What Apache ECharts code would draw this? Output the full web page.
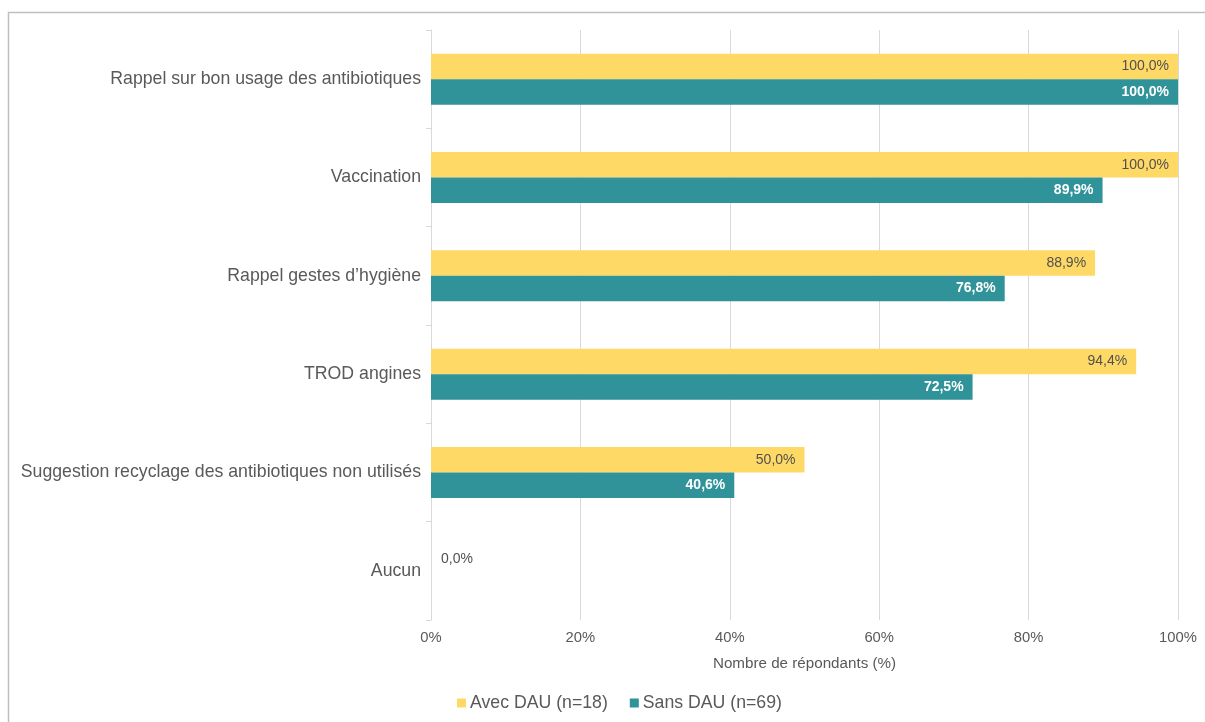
<!DOCTYPE html>
<html>
<head>
<meta charset="utf-8">
<script src="https://cdn.jsdelivr.net/npm/echarts@6/dist/echarts.min.js"></script>
<style>
html,body{margin:0;padding:0;background:#fff;}
#chart{width:1205px;height:722px;}
</style>
</head>
<body>
<div id="chart"></div>
<script>
const categories = [
  "Rappel sur bon usage des antibiotiques",
  "Vaccination",
  "Rappel gestes d\u2019hygiène",
  "TROD angines",
  "Suggestion recyclage des antibiotiques non utilisés",
  "Aucun"
];
const avecDAU = [100.0, 100.0, 88.9, 94.4, 50.0, 0.0];
const sansDAU = [100.0, 89.9, 76.8, 72.5, 40.6, null];
const xTicks = [0, 20, 40, 60, 80, 100];
const seriesNames = ["Avec DAU (n=18)", "Sans DAU (n=69)"];

const fmt = v => v.toFixed(1).replace('.', ',') + '%';

const chart = echarts.init(document.getElementById('chart'), null, {renderer: 'canvas'});
const font = "Arial, 'Liberation Sans', sans-serif";

chart.setOption({
  animation: false,
  textStyle: {fontFamily: font},
  graphic: [{
    type: 'rect',
    shape: {x: 8.5, y: 12.5, width: 1400, height: 900},
    style: {fill: 'none', stroke: '#bfbfbf', lineWidth: 1.5},
    silent: true, z: -10
  }],
  grid: {left: 431, right: 27, top: 30, bottom: 102, containLabel: false},
  legend: {
    data: seriesNames,
    top: 689,
    left: 452,
    itemWidth: 9, itemHeight: 9, itemGap: 22,
    icon: 'rect',
    textStyle: {color: '#595959', fontSize: 17.7, fontFamily: font, padding: [0, 0, 0, -1]}
  },
  xAxis: {
    type: 'value',
    min: 0, max: 100, interval: 20,
    name: 'Nombre de répondants (%)',
    nameLocation: 'middle',
    nameGap: 36,
    nameTextStyle: {color: '#595959', fontSize: 15.2, fontFamily: font},
    axisLabel: {color: '#595959', fontSize: 14.8, margin: 10, formatter: v => v + '%'},
    axisLine: {show: false},
    axisTick: {show: false},
    splitLine: {lineStyle: {color: '#d9d9d9', width: 1}}
  },
  yAxis: {
    type: 'category',
    data: categories,
    inverse: true,
    axisLine: {lineStyle: {color: '#d9d9d9', width: 1}},
    axisTick: {show: true, length: 5, lineStyle: {color: '#d9d9d9'}},
    axisLabel: {color: '#595959', fontSize: 17.7, margin: 10, fontFamily: font}
  },
  series: [
    {
      name: seriesNames[0],
      type: 'bar',
      data: avecDAU.map(v => v === 0 ? {value: v, label: {position: 'right', offset: [1, 1]}} : v),
      itemStyle: {color: '#FFD966'},
      barWidth: 25.5,
      barGap: '0%',
      label: {
        show: true, position: 'insideRight', distance: 9,
        color: '#505050', fontSize: 14, fontFamily: font,
        formatter: p => fmt(p.value)
      }
    },
    {
      name: seriesNames[1],
      type: 'bar',
      data: sansDAU,
      itemStyle: {color: '#2F9399'},
      barWidth: 25.5,
      barGap: '0%',
      label: {
        show: true, position: 'insideRight', distance: 9,
        color: '#ffffff', fontSize: 14, fontWeight: 'bold', fontFamily: font,
        formatter: p => fmt(p.value)
      }
    }
  ]
});
</script>
</body>
</html>
